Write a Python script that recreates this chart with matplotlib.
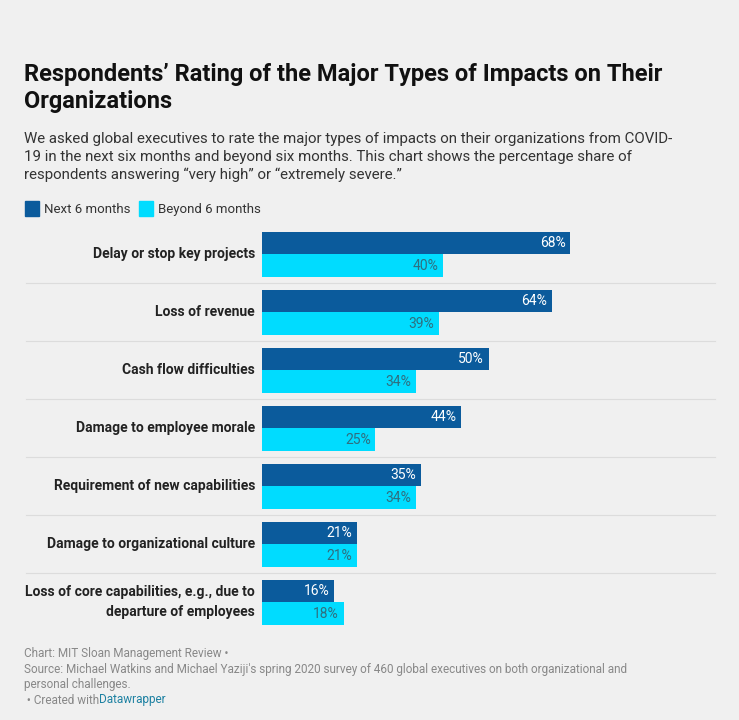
import matplotlib.pyplot as plt
import numpy as np

plt.rcParams['font.family'] = ['Roboto', 'DejaVu Sans']

categories = [
    "Delay or stop key projects",
    "Loss of revenue",
    "Cash flow difficulties",
    "Damage to employee morale",
    "Requirement of new capabilities",
    "Damage to organizational culture",
    "Loss of core capabilities, e.g., due to\ndeparture of employees",
]
next_6 = [68, 64, 50, 44, 35, 21, 16]
beyond_6 = [40, 39, 34, 25, 34, 21, 18]

DARK = "#0b5b9c"
CYAN = "#00dcff"
BG = "#f0f0f0"

W, H = 739, 720
fig = plt.figure(figsize=(W / 100, H / 100), dpi=100, facecolor=BG)


def px(x, y):
    return x / W, 1 - y / H


# axes: x 262..715, y 225..632
ax = fig.add_axes([262 / W, 1 - 632 / H, (715 - 262) / W, (632 - 225) / H])
ax.set_facecolor(BG)
n = len(categories)
pitch = 58
bh = 22
ax.set_xlim(0, 100)
ax.set_ylim(632, 225)
for i, (cat, a, b) in enumerate(zip(categories, next_6, beyond_6)):
    top = 232 + i * pitch
    ax.barh(top + bh / 2, a, height=bh, color=DARK)
    ax.barh(top + bh + bh / 2 + 0.5, b, height=bh + 1, color=CYAN)
    ax.text(a - 1, top + bh / 2, f"{a}%", ha="right", va="center",
            color="white", fontsize=10)
    ax.text(b - 1, top + bh * 1.5 + 0.5, f"{b}%", ha="right", va="center",
            color="#2f6f80", fontsize=10)
    fx, fy = px(255, top + bh)
    fig.text(fx, fy, cat, ha="right", va="center", fontsize=10,
             fontweight="bold", color="#222222", linespacing=1.5)
    if i < n - 1:
        ax.axhline(top + 2 * bh + 7, color="#dcdcdc", lw=0.8, xmin=-0.52,
                   clip_on=False)
ax.axis("off")

fig.text(*px(24, 88), "Respondents\u2019 Rating of the Major Types of Impacts on Their\nOrganizations",
         fontsize=17, fontweight="bold", color="#111111", va="center",
         linespacing=1.2)
fig.text(*px(24, 157), "We asked global executives to rate the major types of impacts on their organizations from COVID-\n"
         "19 in the next six months and beyond six months. This chart shows the percentage share of\n"
         "respondents answering \u201cvery high\u201d or \u201cextremely severe.\u201d",
         fontsize=10.8, color="#333333", va="center", linespacing=1.35)

# legend
for x0, col, lab in [(25, DARK, "Next 6 months"), (139, CYAN, "Beyond 6 months")]:
    fig.patches.append(plt.Rectangle(px(x0, 216), 14 / W, 15 / H, color=col,
                                     transform=fig.transFigure))
    fig.text(*px(x0 + 19, 209), lab, fontsize=9.5, color="#333333", va="center")

fig.text(*px(24, 654), "Chart: MIT Sloan Management Review \u2022", fontsize=8.5,
         color="#888888", va="center")
fig.text(*px(24, 677), "Source: Michael Watkins and Michael Yaziji's spring 2020 survey of 460 global executives on both organizational and\npersonal challenges.",
         fontsize=8.5, color="#888888", va="center", linespacing=1.2)
fig.text(*px(24, 700), " \u2022 Created with", fontsize=8.5, color="#888888", va="center")
fig.text(*px(99, 700), "Datawrapper", fontsize=8.5, color="#1d81a2", va="center")

fig.savefig("out.png", dpi=100, facecolor=BG)
